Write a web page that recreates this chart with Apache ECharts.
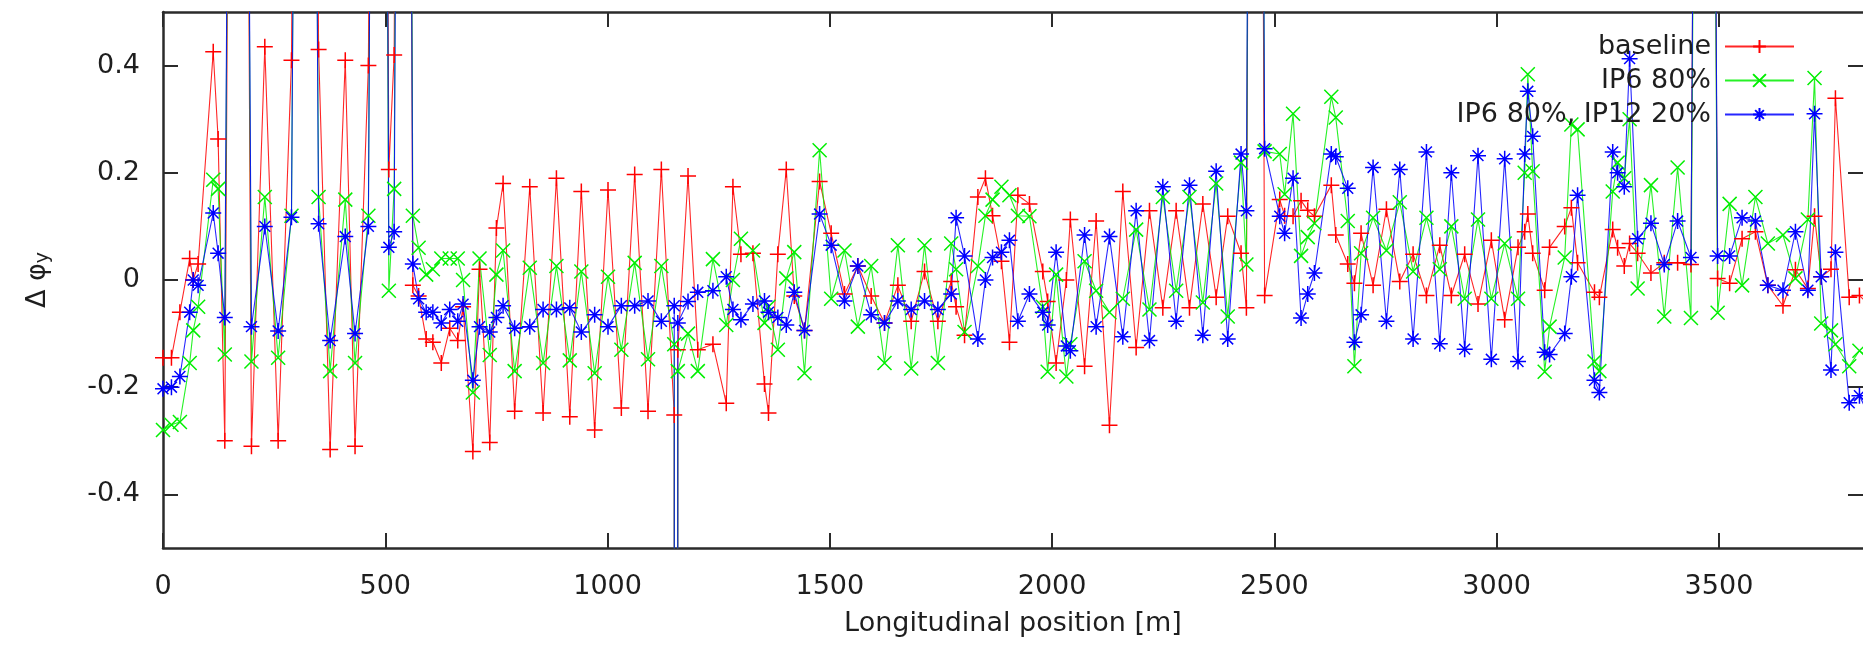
<!DOCTYPE html>
<html><head><meta charset="utf-8">
<script src="https://cdn.jsdelivr.net/npm/echarts@6/dist/echarts.min.js"></script>
<style>html,body{margin:0;padding:0;background:#fff}#c{width:1863px;height:647px}</style>
</head><body><div id="c"></div>
<script>
// Longitudinal positions [m] (shared lattice of the three optics)
const positions = [
  0, 19, 38, 60, 68, 79, 113, 124, 139, 169,
  199, 229, 259, 289, 320, 350, 376, 410, 432, 462,
  487, 508, 520, 542, 562, 575, 592, 607, 626, 645,
  663, 675, 697, 712, 735, 750, 765, 791, 825, 855,
  885, 915, 941, 971, 1001, 1031, 1061, 1091, 1121, 1150,
  1154, 1158, 1181, 1203, 1237, 1267, 1282, 1300, 1327, 1353,
  1362, 1383, 1402, 1420, 1443, 1477, 1503, 1533, 1563, 1593,
  1623, 1653, 1683, 1713, 1743, 1773, 1784, 1803, 1833, 1850,
  1866, 1886, 1904, 1923, 1949, 1979, 1990, 2009, 2032, 2041,
  2073, 2099, 2129, 2159, 2189, 2219, 2249, 2279, 2309, 2339,
  2369, 2395, 2425, 2437, 2457, 2478, 2512, 2523, 2542, 2560,
  2575, 2590, 2628, 2638, 2665, 2680, 2695, 2722, 2752, 2782,
  2812, 2842, 2872, 2898, 2928, 2958, 2988, 3018, 3048, 3063,
  3070, 3081, 3108, 3119, 3153, 3168, 3182, 3220, 3231, 3261,
  3272, 3287, 3299, 3317, 3347, 3377, 3407, 3437, 3467, 3497,
  3524, 3552, 3582, 3610, 3644, 3672, 3700, 3715, 3730, 3752,
  3762, 3793, 3816, 3830
];
// baseline
const baseline = [
  -0.145, -0.145, -0.06, 0.04, 0.0, 0.03, 0.426, 0.263, -0.30, 4,
  -0.31, 0.435, -0.30, 0.41, 4, 0.43, -0.316, 0.41, -0.31, 0.40,
  4, 0.206, 0.42, 4, -0.01, -0.03, -0.11, -0.116, -0.155, -0.09,
  -0.113, -0.05, -0.32, 0.02, -0.303, 0.097, 0.18, -0.245, 0.174, -0.248,
  0.19, -0.255, 0.165, -0.28, 0.168, -0.239, 0.197, -0.245, 0.206, -0.252,
  -20, -0.13, 0.194, -0.13, -0.12, -0.23, 0.174, 0.048, 0.05, -0.194,
  -0.248, 0.048, 0.206, -0.03, -0.094, 0.184, 0.087, -0.026, 0.026, -0.03,
  -0.08, -0.01, -0.077, 0.016, -0.077, -0.003, -0.05, -0.103, 0.155, 0.19,
  0.12, 0.035, -0.116, 0.158, 0.142, 0.016, -0.04, -0.155, 0.0, 0.113,
  -0.161, 0.11, -0.271, 0.165, -0.126, 0.129, -0.052, 0.129, -0.052, 0.142,
  -0.032, 0.119, 0.05, -0.052, 4, -0.029, 0.15, 0.12, 0.119, 0.148,
  0.13, 0.119, 0.177, 0.084, 0.03, -0.006, 0.087, -0.01, 0.132, -0.003,
  0.048, -0.029, 0.065, -0.029, 0.048, -0.045, 0.074, -0.074, 0.061, 0.09,
  0.123, 0.05, -0.019, 0.061, 0.1, 0.135, 0.032, -0.023, -0.032, 0.094,
  0.06, 0.026, 0.068, 0.05, 0.013, 0.032, 0.032, 0.029, 4, 0.003,
  -0.006, 0.077, 0.09, -0.01, -0.048, 0.019, -0.016, 0.119, 0.006, 0.02,
  0.339, -0.032, -0.029, -0.04
];
// IP6 80%
const ip6 = [
  -0.28, -0.27, -0.265, -0.155, -0.094, -0.05, 0.187, 0.17, -0.139, 4,
  -0.152, 0.155, -0.145, 0.12, 4, 0.155, -0.17, 0.15, -0.155, 0.12,
  4, -0.02, 0.17, 4, 0.12, 0.06, 0.01, 0.02, 0.04, 0.04,
  0.04, 0.0, -0.21, 0.04, -0.14, 0.01, 0.055, -0.17, 0.023, -0.155,
  0.026, -0.15, 0.016, -0.174, 0.006, -0.13, 0.032, -0.148, 0.026, -0.12,
  -20, -0.17, -0.10, -0.17, 0.039, -0.084, 0.0, 0.077, 0.055, -0.08,
  -0.05, -0.13, 0.003, 0.052, -0.174, 0.242, -0.035, 0.055, -0.087, 0.026,
  -0.155, 0.065, -0.165, 0.065, -0.155, 0.068, 0.02, -0.097, 0.026, 0.12,
  0.15, 0.174, 0.158, 0.12, 0.119, -0.05, -0.171, 0.01, -0.18, -0.12,
  0.035, -0.02, -0.06, -0.035, 0.094, -0.055, 0.155, -0.02, 0.155, -0.042,
  0.18, -0.068, 0.219, 0.029, 4, 0.24, 0.235, 0.16, 0.31, 0.045,
  0.08, 0.106, 0.342, 0.303, 0.11, -0.161, 0.05, 0.116, 0.055, 0.145,
  0.016, 0.116, 0.02, 0.1, -0.035, 0.113, -0.035, 0.068, -0.035, 0.2,
  0.384, 0.203, -0.171, -0.087, 0.042, 0.29, 0.281, -0.152, -0.17, 0.165,
  0.219, 0.19, 0.3, -0.016, 0.177, -0.068, 0.21, -0.071, 4, -0.061,
  0.142, -0.01, 0.155, 0.068, 0.084, 0.003, 0.113, 0.377, -0.081, -0.094,
  -0.12, -0.161, -0.132, -0.14
];
// IP6 80%, IP12 20%
const ip6ip12 = [
  -0.203, -0.20, -0.18, -0.06, 0.0, -0.01, 0.125, 0.05, -0.07, 4,
  -0.087, 0.10, -0.095, 0.117, 4, 0.105, -0.113, 0.081, -0.10, 0.10,
  4, 0.061, 0.09, 4, 0.03, -0.035, -0.06, -0.06, -0.08, -0.055,
  -0.077, -0.045, -0.187, -0.087, -0.097, -0.07, -0.048, -0.09, -0.087, -0.055,
  -0.055, -0.052, -0.097, -0.065, -0.087, -0.048, -0.048, -0.039, -0.077, -0.048,
  -20, -0.08, -0.04, -0.023, -0.02, 0.006, -0.055, -0.074, -0.045, -0.039,
  -0.06, -0.07, -0.084, -0.023, -0.094, 0.123, 0.065, -0.039, 0.026, -0.065,
  -0.08, -0.039, -0.055, -0.039, -0.055, -0.026, 0.116, 0.045, -0.11, 0.0,
  0.042, 0.052, 0.074, -0.077, -0.026, -0.06, -0.084, 0.052, -0.123, -0.132,
  0.084, -0.087, 0.081, -0.106, 0.129, -0.113, 0.174, -0.077, 0.177, -0.103,
  0.203, -0.11, 0.235, 0.129, 4, 0.245, 0.119, 0.087, 0.19, -0.071,
  -0.026, 0.013, 0.235, 0.23, 0.171, -0.116, -0.065, 0.21, -0.077, 0.206,
  -0.11, 0.239, -0.119, 0.2, -0.129, 0.232, -0.148, 0.226, -0.152, 0.235,
  0.352, 0.268, -0.135, -0.139, -0.1, 0.006, 0.158, -0.187, -0.21, 0.239,
  0.2, 0.174, 0.413, 0.077, 0.106, 0.029, 0.11, 0.042, 4, 0.045,
  0.045, 0.116, 0.11, -0.01, -0.019, 0.09, -0.019, 0.31, 0.006, -0.168,
  0.052, -0.229, -0.216, -0.24
];
const seriesNames = ['baseline', 'IP6 80%', 'IP6 80%, IP12 20%'];
const xTicks = [0, 500, 1000, 1500, 2000, 2500, 3000, 3500];
const yTicks = [-0.4, -0.2, 0, 0.2, 0.4];

const FONT = 'DejaVu Sans';
const TXT = '#1e1e1e';
const AX = '#2b2b2b';
const plusPath = 'path://M0,5L10,5M5,0L5,10';
const crossPath = 'path://M0,0L10,10M10,0L0,10';
const starPath = 'path://M0,5L10,5M5,0L5,10M1.6,1.6L8.4,8.4M8.4,1.6L1.6,8.4';

function mk(name, ys, color, symbol, size) {
  return {
    name: name, type: 'line', xAxisIndex: 0, yAxisIndex: 0,
    data: positions.map((x, i) => [x, ys[i]]),
    symbol: symbol, symbolSize: size, symbolKeepAspect: true,
    showSymbol: true, clip: true,
    lineStyle: { color: color, width: 1.1, opacity: 0.85 },
    itemStyle: { color: color, borderColor: color, borderWidth: 1.5 },
    emphasis: { disabled: true }, animation: false
  };
}

const chart = echarts.init(document.getElementById('c'), null, { renderer: 'canvas' });
chart.setOption({
  backgroundColor: '#ffffff',
  animation: false,
  grid: { left: 163, top: 12, right: 0, bottom: 99, containLabel: false },
  legend: {
    orient: 'vertical', right: 63, top: 28, align: 'right',
    itemWidth: 69, itemHeight: 16, itemGap: 7,
    textStyle: { fontSize: 27, fontFamily: FONT, color: TXT, lineHeight: 27, padding: [0, 9, 0, 0] },
    data: seriesNames
  },
  xAxis: [
    {
      type: 'value', position: 'bottom', min: 0, max: 3824,
      name: 'Longitudinal position [m]', nameLocation: 'middle', nameGap: 62,
      nameTextStyle: { fontSize: 27, fontFamily: FONT, color: TXT },
      axisLine: { show: true, onZero: false, lineStyle: { color: AX, width: 2.5 } },
      axisTick: { show: true, inside: true, length: 15, customValues: xTicks, lineStyle: { color: AX, width: 2 } },
      axisLabel: { show: true, customValues: xTicks, margin: 25, fontSize: 27, fontFamily: FONT, color: TXT,
        formatter: v => String(Math.round(v)) },
      splitLine: { show: false }
    },
    {
      type: 'value', position: 'top', min: 0, max: 3824,
      axisLine: { show: true, onZero: false, lineStyle: { color: AX, width: 2.5 } },
      axisTick: { show: true, inside: true, length: 15, customValues: xTicks, lineStyle: { color: AX, width: 2 } },
      axisLabel: { show: false },
      splitLine: { show: false }
    }
  ],
  yAxis: [
    {
      type: 'value', position: 'left', min: -0.5, max: 0.5,
      name: 'Δ φ{s|y}', nameLocation: 'middle', nameGap: 110,
      nameTextStyle: { fontSize: 27, fontFamily: FONT, color: TXT,
        rich: { s: { fontSize: 19, fontFamily: FONT, color: TXT, padding: [12, 0, 0, 0] } } },
      axisLine: { show: true, onZero: false, lineStyle: { color: AX, width: 2.5 } },
      axisTick: { show: true, inside: true, length: 15, customValues: yTicks, lineStyle: { color: AX, width: 2 } },
      axisLabel: { show: true, customValues: yTicks, margin: 23, fontSize: 27, fontFamily: FONT, color: TXT,
        formatter: v => String(Math.round(v * 10) / 10) },
      splitLine: { show: false }
    },
    {
      type: 'value', position: 'right', min: -0.5, max: 0.5,
      axisLine: { show: false, onZero: false },
      axisTick: { show: true, inside: true, length: 15, customValues: yTicks, lineStyle: { color: AX, width: 2 } },
      axisLabel: { show: false },
      splitLine: { show: false }
    }
  ],
  series: [
    mk(seriesNames[0], baseline, '#ff0000', plusPath, 16),
    mk(seriesNames[1], ip6, '#00ee00', crossPath, 14),
    mk(seriesNames[2], ip6ip12, '#0000ff', starPath, 16)
  ]
});
</script>
</body></html>
